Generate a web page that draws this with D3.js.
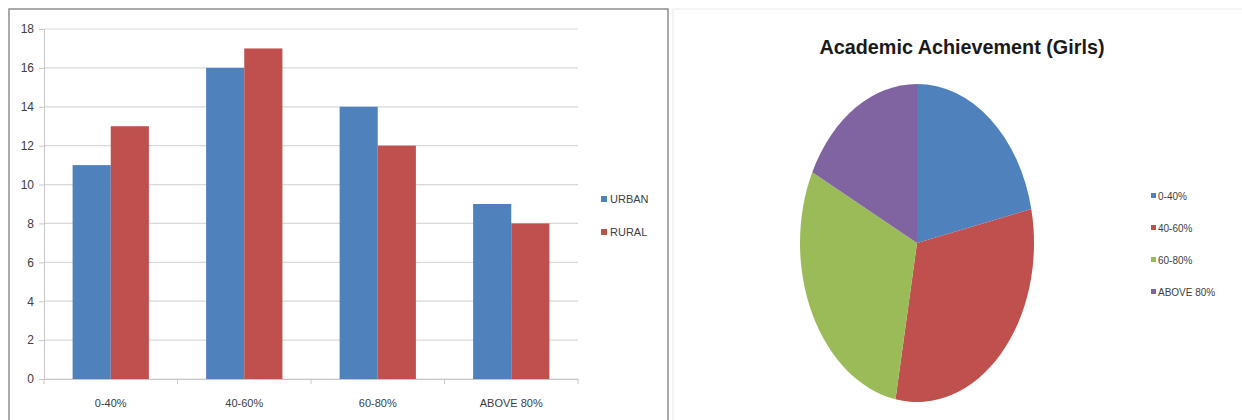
<!DOCTYPE html>
<html>
<head>
<meta charset="utf-8">
<script src="https://cdn.jsdelivr.net/npm/d3@7"></script>
<style>
  body { margin: 0; background: #fff; }
  text { font-family: "Liberation Sans Narrow", "Arial Narrow", "Liberation Sans", sans-serif; }
</style>
</head>
<body>
<div id="chart"></div>
<script>
var categories = ['0-40%', '40-60%', '60-80%', 'ABOVE 80%'];
var seriesNames = ['URBAN', 'RURAL'];
var urban = [11, 16, 14, 9];
var rural = [13, 17, 12, 8];
var girls = [11, 16, 15, 9];
var yTicks = [0, 2, 4, 6, 8, 10, 12, 14, 16, 18];
var colors = ['#4F81BD', '#C0504D', '#9BBB59', '#8064A2'];

var width = 1242, height = 420;

var svg = d3.select('#chart')
	.append('svg')
	.attr('width', width)
	.attr('height', height);

// panel frames
svg.append('rect')
	.attr('x', 9).attr('y', 9)
	.attr('width', 659).attr('height', 430)
	.style('fill', 'none')
	.style('stroke', '#8f8f8f')
	.style('stroke-width', 1.5);
svg.append('rect')
	.attr('x', 673).attr('y', 9)
	.attr('width', 600).attr('height', 430)
	.style('fill', 'none')
	.style('stroke', '#e8e8e8');

// ---- bar chart ----
var x = d3.scaleBand().domain(categories).range([44, 578]);
var y = d3.scaleLinear().domain([0, 18]).range([379, 29]);
var x1 = d3.scaleBand().domain(seriesNames).range([0, x.bandwidth()]).paddingInner(0).paddingOuter(0.75);

var bar = svg.append('g');

bar.selectAll('line.grid')
	.data(yTicks)
	.enter()
	.append('line')
	.attr('x1', 44).attr('x2', 578)
	.attr('y1', function(d) { return y(d); })
	.attr('y2', function(d) { return y(d); })
	.style('stroke', '#d9d9d9')
	.style('stroke-width', 1.2);

var yAxis = bar.append('g')
	.attr('transform', 'translate(44,0)')
	.call(d3.axisLeft(y).tickValues(yTicks).tickSize(5).tickPadding(5));
yAxis.selectAll('text').style('font-size', '12px').style('fill', '#404040');
yAxis.selectAll('line, path').style('stroke', '#c8c8c8');

var series = [urban, rural];
seriesNames.forEach(function(s, si) {
	bar.selectAll('rect.s' + si)
		.data(series[si])
		.enter()
		.append('rect')
		.attr('x', function(d, i) { return x(categories[i]) + x1(s); })
		.attr('y', function(d) { return y(d); })
		.attr('width', x1.bandwidth())
		.attr('height', function(d) { return y(0) - y(d); })
		.style('fill', colors[si]);
});

var xAxis = bar.append('g')
	.attr('transform', 'translate(0,379)')
	.call(d3.axisBottom(x).tickSize(0).tickPadding(0).tickFormat(''));
xAxis.select('path').style('stroke', '#c8c8c8');
xAxis.selectAll('.tick').remove();
bar.selectAll('line.xtick')
	.data(d3.range(categories.length + 1))
	.enter()
	.append('line')
	.attr('x1', function(i) { return 44 + i * x.step(); })
	.attr('x2', function(i) { return 44 + i * x.step(); })
	.attr('y1', 379).attr('y2', 384)
	.style('stroke', '#c8c8c8');
bar.selectAll('text.cat')
	.data(categories)
	.enter()
	.append('text')
	.attr('x', function(d) { return x(d) + x.bandwidth() / 2; })
	.attr('y', 407)
	.attr('text-anchor', 'middle')
	.style('font-size', '11px')
	.style('fill', '#404040')
	.text(function(d) { return d; });

// bar legend
seriesNames.forEach(function(s, i) {
	svg.append('rect')
		.attr('x', 601).attr('y', 196 + i * 33)
		.attr('width', 6).attr('height', 6)
		.style('fill', colors[i]);
	svg.append('text')
		.attr('x', 610).attr('y', 203 + i * 33)
		.style('font-size', '11px')
		.style('fill', '#404040')
		.text(s);
});

// ---- pie chart ----
svg.append('text')
	.attr('x', 962).attr('y', 54)
	.attr('text-anchor', 'middle')
	.attr('textLength', 285)
	.attr('lengthAdjust', 'spacingAndGlyphs')
	.style('font-size', '21px')
	.style('font-weight', 'bold')
	.style('fill', '#1a1a1a')
	.text('Academic Achievement (Girls)');

var rx = 117, ry = 159;
var pie = d3.pie().sort(null);
var arc = d3.arc().innerRadius(0).outerRadius(ry);

svg.append('g')
	.attr('transform', 'translate(917,243) scale(' + (rx / ry) + ',1)')
	.selectAll('path')
	.data(pie(girls))
	.enter()
	.append('path')
	.attr('d', arc)
	.style('fill', function(d, i) { return colors[i]; });

categories.forEach(function(c, i) {
	svg.append('rect')
		.attr('x', 1151).attr('y', 193 + i * 32)
		.attr('width', 5).attr('height', 5)
		.style('fill', colors[i]);
	svg.append('text')
		.attr('x', 1158).attr('y', 200 + i * 32)
		.style('font-size', '10px')
		.style('fill', '#404040')
		.text(c);
});
</script>
</body>
</html>
